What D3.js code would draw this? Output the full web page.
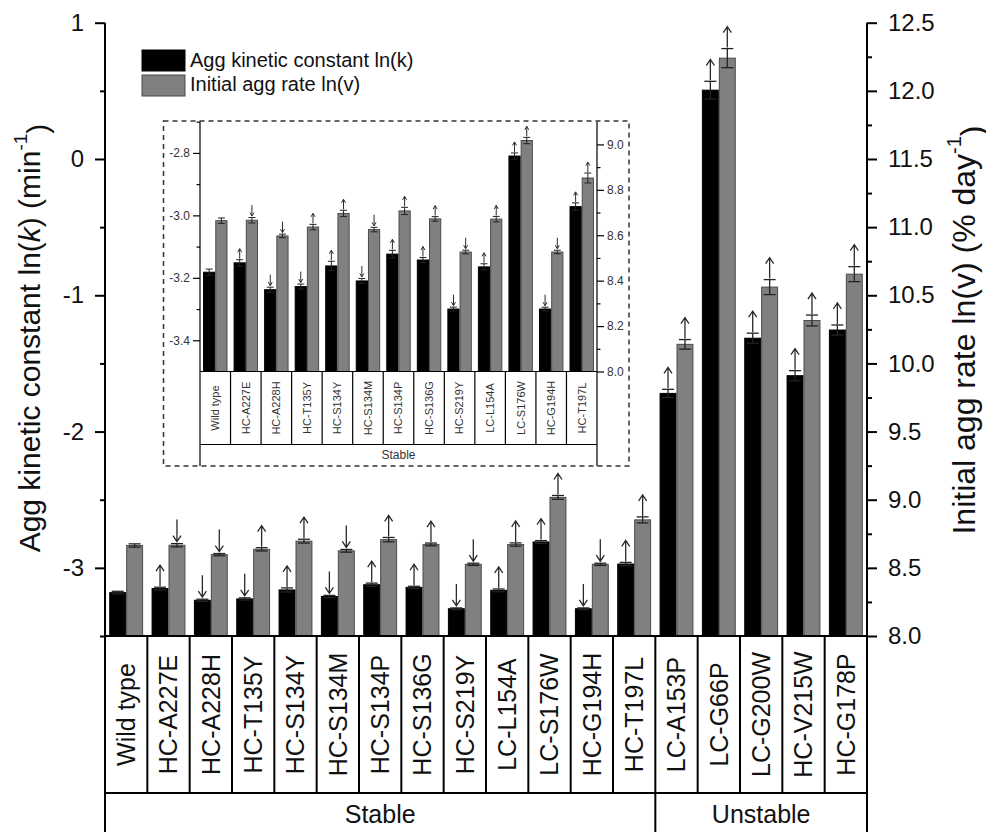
<!DOCTYPE html>
<html>
<head>
<meta charset="utf-8">
<script src="https://cdn.jsdelivr.net/npm/d3@7"></script>
<style>
  body { margin: 0; background: #fff; }
  svg { font-family: "Liberation Sans", Arial, sans-serif; }
</style>
</head>
<body>
<svg id="chart" width="986" height="832"></svg>
<script>
var categories = ['Wild type', 'HC-A227E', 'HC-A228H', 'HC-T135Y', 'HC-S134Y', 'HC-S134M',
  'HC-S134P', 'HC-S136G', 'HC-S219Y', 'LC-L154A', 'LC-S176W', 'HC-G194H', 'HC-T197L',
  'LC-A153P', 'LC-G66P', 'LC-G200W', 'HC-V215W', 'HC-G178P'];
var groups = [{name: 'Stable', n: 13}, {name: 'Unstable', n: 5}];

// ln(k), left axis
var lnK = [-3.182, -3.152, -3.238, -3.228, -3.162, -3.21, -3.124, -3.143, -3.30, -3.165, -2.81, -3.30, -2.972,
  -1.72, 0.505, -1.315, -1.59, -1.255];
var lnKErr = [0.01, 0.01, 0.008, 0.008, 0.015, 0.008, 0.012, 0.008, 0.006, 0.01, 0.01, 0.006, 0.012,
  0.03, 0.065, 0.037, 0.037, 0.037];
// ln(v), right axis
var lnV = [8.664, 8.666, 8.597, 8.636, 8.696, 8.625, 8.707, 8.672, 8.526, 8.671, 9.017, 8.526, 8.852,
  10.14, 12.24, 10.56, 10.315, 10.655];
var lnVErr = [0.012, 0.012, 0.008, 0.012, 0.014, 0.01, 0.016, 0.01, 0.008, 0.012, 0.014, 0.008, 0.022,
  0.035, 0.07, 0.055, 0.04, 0.055];
// arrows above bars: 1 up, -1 down, 0 none
var kTrend = [0, 1, -1, -1, 1, -1, 1, 1, -1, 1, 1, -1, 1, 1, 1, 1, 1, 1];
var vTrend = [0, -1, -1, 1, 1, -1, 1, 1, -1, 1, 1, -1, 1, 1, 1, 1, 1, 1];

var mainKTicks = [-3, -2, -1, 0, 1];
var mainKMinor = [-3.5, -2.5, -1.5, -0.5, 0.5];
var mainVTicks = [8, 8.5, 9, 9.5, 10, 10.5, 11, 11.5, 12, 12.5];
var mainVMinor = [8.25, 8.75, 9.25, 9.75, 10.25, 10.75, 11.25, 11.75, 12.25];
var insetKTicks = [-3.4, -3.2, -3.0, -2.8];
var insetKMinor = [-3.3, -3.1, -2.9, -2.7];
var insetVTicks = [8.0, 8.2, 8.4, 8.6, 8.8, 9.0];
var insetVMinor = [8.1, 8.3, 8.5, 8.7, 8.9];

var svg = d3.select('#chart');

function drawPanel(o) {
  var cats = categories.slice(0, o.n);
  var g = svg.append('g');

  var x = d3.scaleBand().domain(cats).range([o.left, o.right])
    .paddingInner(0.2).paddingOuter(0.1);
  var sub = d3.scaleBand().domain(['k', 'v']).range([0, x.bandwidth()]);
  var yK = d3.scaleLinear().domain(o.kDomain).range([o.bottom, o.top]);
  var yV = d3.scaleLinear().domain(o.vDomain).range([o.bottom, o.top]);
  var step = x.step();
  var pad = (step - x.bandwidth()) / 2;

  var rows = cats.map(function(c, i) {
    return [
      {c: c, key: 'k', val: lnK[i], err: lnKErr[i], trend: kTrend[i], y: yK, fill: '#000', stroke: '#000'},
      {c: c, key: 'v', val: lnV[i], err: lnVErr[i], trend: vTrend[i], y: yV, fill: '#808080', stroke: '#4a4a4a'}
    ];
  });
  var bars = [].concat.apply([], rows);

  g.selectAll('rect.bar').data(bars).enter().append('rect')
    .attr('class', 'bar')
    .attr('x', function(d) { return x(d.c) + sub(d.key) + 0.5; })
    .attr('width', sub.bandwidth() - 1)
    .attr('y', function(d) { return d.y(d.val); })
    .attr('height', function(d) { return o.bottom - d.y(d.val); })
    .attr('fill', function(d) { return d.fill; })
    .attr('stroke', function(d) { return d.stroke; })
    .attr('stroke-width', 1);

  // error bars
  var eb = g.selectAll('g.err').data(bars).enter().append('g')
    .attr('stroke', '#222').attr('stroke-width', o.sw);
  eb.append('line')
    .attr('x1', function(d) { return x(d.c) + sub(d.key) + sub.bandwidth() / 2; })
    .attr('x2', function(d) { return x(d.c) + sub(d.key) + sub.bandwidth() / 2; })
    .attr('y1', function(d) { return d.y(d.val - d.err); })
    .attr('y2', function(d) { return d.y(d.val + d.err); });
  [-1, 1].forEach(function(s) {
    eb.append('line')
      .attr('x1', function(d) { return x(d.c) + sub(d.key) + sub.bandwidth() / 2 - o.cap; })
      .attr('x2', function(d) { return x(d.c) + sub(d.key) + sub.bandwidth() / 2 + o.cap; })
      .attr('y1', function(d) { return d.y(d.val + s * d.err); })
      .attr('y2', function(d) { return d.y(d.val + s * d.err); });
  });

  // trend arrows
  g.selectAll('path.arrow').data(bars.filter(function(d) { return d.trend !== 0; }))
    .enter().append('path')
    .attr('class', 'arrow')
    .attr('fill', 'none')
    .attr('stroke', '#2a2a2a')
    .attr('stroke-width', o.sw)
    .attr('d', function(d) {
      var cx = x(d.c) + sub(d.key) + sub.bandwidth() / 2;
      var yc = d.y(d.val + d.err);
      if (d.trend > 0) {
        var tip = yc - o.arrow;
        return 'M' + cx + ',' + (yc - 1) + 'V' + tip +
          'M' + (cx - o.hw) + ',' + (tip + o.hh) + 'L' + cx + ',' + tip + 'L' + (cx + o.hw) + ',' + (tip + o.hh);
      }
      var t = yc - o.gap;
      return 'M' + cx + ',' + (t - o.arrow) + 'V' + t +
        'M' + (cx - o.hw) + ',' + (t - o.hh) + 'L' + cx + ',' + t + 'L' + (cx + o.hw) + ',' + (t - o.hh);
    });

  // axes
  function styleAxis(sel) {
    sel.selectAll('path.domain').attr('stroke', '#000').attr('stroke-width', o.axw);
    sel.selectAll('.tick line').attr('stroke', '#000').attr('stroke-width', o.axw);
    sel.selectAll('.tick text').attr('fill', o.tickColor).style('font-size', o.tickFont + 'px')
      .style('font-family', '"Liberation Sans", Arial, sans-serif');
  }
  var fmtK = o.kFmt, fmtV = o.vFmt;
  g.append('g').attr('transform', 'translate(' + o.left + ',0)')
    .call(d3.axisLeft(yK).tickValues(o.kTicks).tickFormat(fmtK).tickSize(o.tick).tickSizeOuter(0).tickPadding(o.tpad))
    .call(styleAxis);
  g.append('g').attr('transform', 'translate(' + o.left + ',0)')
    .call(d3.axisLeft(yK).tickValues(o.kMinor).tickFormat('').tickSize(o.tick / 2).tickSizeOuter(0))
    .call(styleAxis);
  g.append('g').attr('transform', 'translate(' + o.right + ',0)')
    .call(d3.axisRight(yV).tickValues(o.vTicks).tickFormat(fmtV).tickSize(o.tick).tickSizeOuter(0).tickPadding(o.tpad))
    .call(styleAxis);
  g.append('g').attr('transform', 'translate(' + o.right + ',0)')
    .call(d3.axisRight(yV).tickValues(o.vMinor).tickFormat('').tickSize(o.tick / 2).tickSizeOuter(0))
    .call(styleAxis);
  g.selectAll('.domain').remove();

  // table frame below plot
  var tb = g.append('g').attr('stroke', '#000').attr('stroke-width', o.axw);
  tb.append('line').attr('x1', o.left).attr('x2', o.left).attr('y1', o.top).attr('y2', o.groupBottom);
  tb.append('line').attr('x1', o.right).attr('x2', o.right).attr('y1', o.top).attr('y2', o.groupBottom);
  tb.append('line').attr('x1', o.left).attr('x2', o.right).attr('y1', o.bottom).attr('y2', o.bottom);
  tb.append('line').attr('x1', o.left).attr('x2', o.right).attr('y1', o.catBottom).attr('y2', o.catBottom);
  tb.selectAll('line.sep').data(cats.slice(1)).enter().append('line')
    .attr('x1', function(c) { return x(c) - pad; })
    .attr('x2', function(c) { return x(c) - pad; })
    .attr('y1', o.bottom).attr('y2', o.catBottom);

  g.selectAll('text.cat').data(cats).enter().append('text')
    .attr('class', 'cat')
    .attr('transform', function(c) {
      return 'translate(' + (x(c) + x.bandwidth() / 2) + ',' + ((o.bottom + o.catBottom) / 2) + ') rotate(-90)';
    })
    .attr('text-anchor', 'middle')
    .attr('dy', '0.35em')
    .attr('fill', o.tickColor)
    .style('font-size', o.catFont + 'px')
    .text(function(c) { return c; });

  var start = 0;
  o.groups.forEach(function(gr) {
    var a = categories[start], b = categories[start + gr.n - 1];
    var x0 = x(a) - pad, x1 = x(b) + x.bandwidth() + pad;
    if (start > 0) {
      tb.append('line').attr('x1', x0).attr('x2', x0).attr('y1', o.catBottom).attr('y2', o.groupBottom);
    }
    g.append('text')
      .attr('x', (x0 + x1) / 2).attr('y', o.groupY)
      .attr('text-anchor', 'middle')
      .attr('fill', o.tickColor)
      .style('font-size', o.groupFont + 'px')
      .text(gr.name);
    start += gr.n;
  });
}

// main chart
drawPanel({
  n: 18, left: 105, right: 867, top: 22.7, bottom: 636, catBottom: 793, groupBottom: 840, groupY: 823,
  kDomain: [-3.5, 1], vDomain: [8, 12.5],
  kTicks: mainKTicks, kMinor: mainKMinor, vTicks: mainVTicks, vMinor: mainVMinor,
  kFmt: function(d) { return String(d); }, vFmt: function(d) { return d.toFixed(1); },
  tick: 10, tpad: 11, tickFont: 24, catFont: 25, groupFont: 25, tickColor: '#111',
  sw: 1.3, axw: 2, cap: 6, arrow: 22, gap: 2, hw: 4, hh: 6,
  groups: groups
});

// inset, dashed frame first
svg.append('rect')
  .attr('x', 163.5).attr('y', 121).attr('width', 465.5).attr('height', 345)
  .attr('fill', '#fff').attr('stroke', '#333').attr('stroke-width', 1.5)
  .attr('stroke-dasharray', '5,4');

drawPanel({
  n: 13, left: 200, right: 597, top: 121.7, bottom: 371.5, catBottom: 444.5, groupBottom: 466, groupY: 459,
  kDomain: [-3.5, -2.7], vDomain: [8.0, 9.1],
  kTicks: insetKTicks, kMinor: insetKMinor, vTicks: insetVTicks, vMinor: insetVMinor,
  kFmt: function(d) { return d.toFixed(1); }, vFmt: function(d) { return d.toFixed(1); },
  tick: 7, tpad: 3, tickFont: 12, catFont: 11, groupFont: 12, tickColor: '#333',
  sw: 1, axw: 1.2, cap: 3.5, arrow: 11, gap: 1.5, hw: 2, hh: 3.5,
  groups: [{name: 'Stable', n: 13}]
});

// legend
var legend = svg.append('g');
var legendItems = [
  {label: 'Agg kinetic constant ln(k)', fill: '#000', stroke: '#000'},
  {label: 'Initial agg rate ln(v)', fill: '#808080', stroke: '#4a4a4a'}
];
legend.selectAll('rect').data(legendItems).enter().append('rect')
  .attr('x', 142).attr('y', function(d, i) { return 50 + i * 25; })
  .attr('width', 43).attr('height', 21)
  .attr('fill', function(d) { return d.fill; })
  .attr('stroke', function(d) { return d.stroke; });
legend.selectAll('text').data(legendItems).enter().append('text')
  .attr('x', 190).attr('y', function(d, i) { return 67 + i * 24; })
  .style('font-size', '20px').attr('fill', '#111')
  .text(function(d) { return d.label; });

// axis titles
var lt = svg.append('text')
  .attr('transform', 'translate(40,338) rotate(-90)')
  .attr('text-anchor', 'middle').style('font-size', '30px').attr('fill', '#111');
lt.append('tspan').text('Agg kinetic constant ln(');
lt.append('tspan').style('font-style', 'italic').text('k');
lt.append('tspan').text(') (min');
lt.append('tspan').attr('dy', '-0.7em').style('font-size', '19px').text('-1');
lt.append('tspan').attr('dy', '0.7em').text(')');

var rt = svg.append('text')
  .attr('transform', 'translate(975,330) rotate(-90)')
  .attr('text-anchor', 'middle').style('font-size', '32px').attr('fill', '#111');
rt.append('tspan').text('Initial agg rate ln(');
rt.append('tspan').text('v');
rt.append('tspan').text(') (% day');
rt.append('tspan').attr('dy', '-0.7em').style('font-size', '20px').text('-1');
rt.append('tspan').attr('dy', '0.7em').text(')');
</script>
</body>
</html>
